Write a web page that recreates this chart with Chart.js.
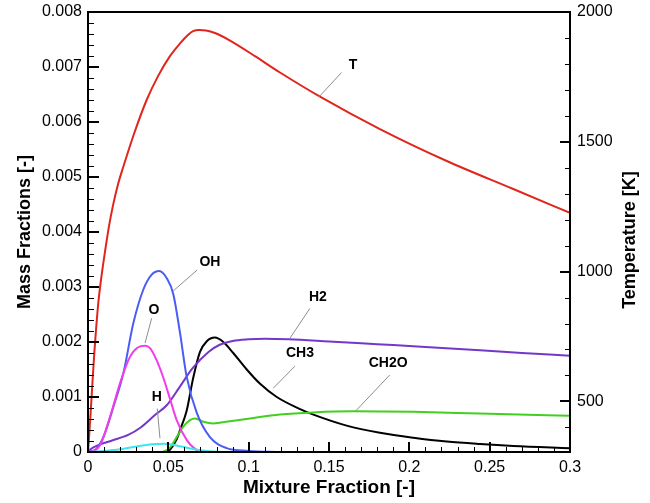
<!DOCTYPE html>
<html>
<head>
<meta charset="utf-8">
<script src="https://cdn.jsdelivr.net/npm/chart.js@4"></script>
<style>
  html, body { margin: 0; padding: 0; background: #fff; }
  canvas { display: block; }
</style>
</head>
<body>
<canvas id="chart" width="650" height="503"></canvas>
<script>
// ---- data ----
const xTicks = [0, 0.05, 0.1, 0.15, 0.2, 0.25, 0.3];
const yTicks = [0, 0.001, 0.002, 0.003, 0.004, 0.005, 0.006, 0.007, 0.008];
const tTicks = [500, 1000, 1500, 2000];

// Temperature [K] (right axis)
const mixT = [0, 0.00062, 0.00156, 0.00249, 0.00392, 0.00498, 0.00641, 0.00809, 0.00952, 0.0112, 0.0131, 0.0156,
  0.0189, 0.022, 0.0286, 0.0365, 0.0436, 0.051, 0.0573, 0.0622, 0.0654, 0.0691, 0.0735, 0.079, 0.0884, 0.1039,
  0.1195, 0.1444, 0.1817, 0.2233, 0.2647, 0.3];
const tempT = [305, 359, 448, 544, 686, 775, 879, 968, 1033, 1102, 1176, 1256,
  1341, 1404, 1530, 1661, 1753, 1830, 1879, 1911, 1926, 1931, 1929, 1919, 1890, 1830,
  1767, 1674, 1549, 1426, 1318, 1226];

// OH
const mixOH = [0, 0.005, 0.01, 0.0158, 0.022, 0.0282, 0.0344, 0.0395, 0.0444, 0.049, 0.0531, 0.0573, 0.0614,
  0.0676, 0.0759, 0.0863, 0.1, 0.12];
const yOH = [0, 0.00005, 0.0003, 0.00082, 0.00143, 0.00234, 0.00295, 0.00322, 0.00329, 0.00316, 0.00287, 0.00216, 0.00137,
  0.00072, 0.00027, 0.00007, 0.00002, 0];

// O
const mixO = [0, 0.004, 0.0075, 0.0137, 0.0199, 0.0261, 0.031, 0.0355, 0.0386, 0.0427, 0.0469, 0.051, 0.0552,
  0.0614, 0.066, 0.07, 0.08];
const yO = [0, 0.00003, 0.00012, 0.00064, 0.00125, 0.00173, 0.0019, 0.00193, 0.00189, 0.00167, 0.00135, 0.00097, 0.00058,
  0.00022, 0.00007, 0.00001, 0];

// H
const mixH = [0, 0.01, 0.02, 0.03, 0.04, 0.047, 0.055, 0.063, 0.07, 0.08, 0.1];
const yH = [0, 0.00002, 0.00005, 0.0001, 0.00014, 0.00015, 0.00012, 0.00007, 0.00003, 0.000005, 0];

// H2
const mixH2 = [0, 0.002, 0.006, 0.015, 0.025, 0.033, 0.042, 0.049, 0.057, 0.065, 0.075, 0.082, 0.09, 0.1, 0.11,
  0.125, 0.15, 0.18, 0.21, 0.244, 0.27, 0.3];
const yH2 = [0, 0.00006, 0.00012, 0.00021, 0.00031, 0.00045, 0.00068, 0.00085, 0.00118, 0.00152, 0.00182, 0.00195, 0.00202,
  0.00205, 0.00206, 0.00205, 0.00201, 0.00196, 0.00191, 0.00185, 0.0018, 0.00175];

// CH3
const mixCH3 = [0, 0.045, 0.048, 0.051, 0.055, 0.0573, 0.0614, 0.0655, 0.0697, 0.0738, 0.079, 0.0842, 0.0904, 0.0988,
  0.1071, 0.1175, 0.132, 0.1403, 0.161, 0.1817, 0.2025, 0.2233, 0.244, 0.2647, 0.3];
const yCH3 = [0, 0, 0.000005, 0.00004, 0.00022, 0.0004, 0.00075, 0.00135, 0.00182, 0.00201, 0.00208, 0.002, 0.0018, 0.0015,
  0.00124, 0.001, 0.00078, 0.00068, 0.00048, 0.00035, 0.00026, 0.00019, 0.000145, 0.00011, 0.00007];

// CH2O
const mixCH2O = [0, 0.045, 0.0469, 0.051, 0.0552, 0.0593, 0.0635, 0.0666, 0.0718, 0.078, 0.0884, 0.1008, 0.1195,
  0.1403, 0.165, 0.2025, 0.244, 0.3];
const yCH2O = [0, 0, 0.000005, 0.00008, 0.00027, 0.00046, 0.00058, 0.00061, 0.00055, 0.00052, 0.00056, 0.00061, 0.00068,
  0.00072, 0.00074, 0.00073, 0.0007, 0.00066];

// curve labels with their leader lines, in (mixture fraction, mass fraction)
const notes = [
  { text: 'T',    at: [0.165, 0.00704],  from: [0.1578, 0.0069],  to: [0.1439, 0.00646] },
  { text: 'OH',   at: [0.0759, 0.00345], from: [0.068, 0.00331],  to: [0.0531, 0.00293] },
  { text: 'O',    at: [0.0411, 0.00258], from: [0.0396, 0.00243], to: [0.0355, 0.00198] },
  { text: 'H',    at: [0.0429, 0.001],   from: [0.0431, 0.00079], to: [0.0448, 0.00025] },
  { text: 'H2',   at: [0.1431, 0.00282], from: [0.1381, 0.00261], to: [0.1257, 0.00207] },
  { text: 'CH3',  at: [0.1319, 0.00179], from: [0.1288, 0.00156], to: [0.1153, 0.00116] },
  { text: 'CH2O', at: [0.1868, 0.00161], from: [0.1878, 0.0014],  to: [0.1661, 0.00073] },
];

const pts = (xs, ys) => xs.map((x, i) => ({ x, y: ys[i] }));

const line = (label, xs, ys, color, axis) => ({
  label,
  data: pts(xs, ys),
  borderColor: color,
  borderWidth: 2,
  pointRadius: 0,
  fill: false,
  cubicInterpolationMode: 'monotone',
  yAxisID: axis || 'y',
});

const FONT = "'Liberation Sans', Arial, sans-serif";

// inward tick marks, frame and the right-hand title (Tecplot style)
const framePlugin = {
  id: 'frame',
  afterDraw(chart) {
    const { ctx, chartArea: a, scales } = chart;
    ctx.save();
    ctx.fillStyle = '#000';
    for (let i = 0; i <= 30; i++) {
      const px = Math.round(scales.x.getPixelForValue(i / 100));
      const major = i % 5 === 0;
      const len = major ? 10 : 5, w = major ? 2 : 1;
      ctx.fillRect(px - (w > 1 ? 1 : 0), a.bottom - len, w, len);
    }
    for (let i = 0; i <= 40; i++) {
      const py = Math.round(scales.y.getPixelForValue(i * 0.0002));
      const major = i % 5 === 0;
      const len = major ? 11 : 6, w = major ? 2 : 1;
      ctx.fillRect(a.left, py - (w > 1 ? 1 : 0), len, w);
    }
    for (let v = 400; v <= 2000; v += 100) {
      const py = Math.round(scales.yT.getPixelForValue(v));
      const major = v % 500 === 0;
      const len = major ? 10 : 5, w = major ? 2 : 1;
      ctx.fillRect(a.right - len, py - (w > 1 ? 1 : 0), len, w);
    }
    ctx.strokeStyle = '#000';
    ctx.lineWidth = 2;
    ctx.strokeRect(a.left, a.top, a.right - a.left, a.bottom - a.top);

    ctx.translate(630, (a.top + a.bottom) / 2 + 8);
    ctx.rotate(-Math.PI / 2);
    ctx.font = 'bold 18px ' + FONT;
    ctx.textAlign = 'center';
    ctx.textBaseline = 'middle';
    ctx.fillText('Temperature [K]', 0, 0);
    ctx.restore();
  }
};

const notesPlugin = {
  id: 'notes',
  afterDatasetsDraw(chart) {
    const { ctx, scales } = chart;
    const px = v => scales.x.getPixelForValue(v);
    const py = v => scales.y.getPixelForValue(v);
    ctx.save();
    ctx.strokeStyle = '#8c8c8c';
    ctx.lineWidth = 1;
    ctx.fillStyle = '#000';
    ctx.font = 'bold 14px ' + FONT;
    ctx.textAlign = 'center';
    ctx.textBaseline = 'middle';
    notes.forEach(n => {
      ctx.beginPath();
      ctx.moveTo(px(n.from[0]), py(n.from[1]));
      ctx.lineTo(px(n.to[0]), py(n.to[1]));
      ctx.stroke();
      ctx.fillText(n.text, px(n.at[0]), py(n.at[1]));
    });
    ctx.restore();
  }
};

Chart.defaults.font.family = FONT;
Chart.defaults.color = '#000';

const yTickFont = { size: 16, lineHeight: 0.6 };

new Chart(document.getElementById('chart'), {
  type: 'line',
  data: {
    datasets: [
      line('H', mixH, yH, '#3ce6ee'),
      line('O', mixO, yO, '#f23cec'),
      line('OH', mixOH, yOH, '#4a5cf4'),
      line('H2', mixH2, yH2, '#7438c8'),
      line('CH2O', mixCH2O, yCH2O, '#40d020'),
      line('CH3', mixCH3, yCH3, '#000000'),
      line('T', mixT, tempT, '#e0261c', 'yT'),
    ]
  },
  options: {
    responsive: false,
    animation: false,
    devicePixelRatio: 1,
    layout: { padding: { top: 12, left: 0, right: 0, bottom: 0 } },
    plugins: { legend: { display: false }, tooltip: { enabled: false } },
    scales: {
      x: {
        type: 'linear',
        min: 0,
        max: 0.3,
        afterBuildTicks: s => { s.ticks = xTicks.map(v => ({ value: v })); },
        afterFit: s => { s.height = 51; },
        grid: { display: false, drawTicks: false },
        border: { display: false },
        ticks: { font: { size: 16 }, padding: 6, maxRotation: 0, autoSkip: false, callback: v => String(v) },
        title: { display: true, text: 'Mixture Fraction [-]', font: { size: 19, weight: 'bold' }, padding: { top: 0, bottom: 4 } },
      },
      y: {
        position: 'left',
        min: 0,
        max: 0.008,
        afterBuildTicks: s => { s.ticks = yTicks.map(v => ({ value: v })); },
        afterFit: s => { s.width = 88; },
        grid: { display: false, drawTicks: false },
        border: { display: false },
        ticks: { font: yTickFont, padding: 6, callback: v => v === 0 ? '0' : v.toFixed(3) },
        title: { display: true, text: 'Mass Fractions [-]', font: { size: 18, weight: 'bold' }, padding: { top: 14, bottom: 0 } },
      },
      yT: {
        position: 'right',
        min: 305,
        max: 2000,
        afterBuildTicks: s => { s.ticks = tTicks.map(v => ({ value: v })); },
        afterFit: s => { s.width = 80; },
        grid: { display: false, drawTicks: false },
        border: { display: false },
        ticks: { font: yTickFont, padding: 7, callback: v => String(v) },
        title: { display: false },
      },
    }
  },
  plugins: [framePlugin, notesPlugin]
});
</script>
</body>
</html>
